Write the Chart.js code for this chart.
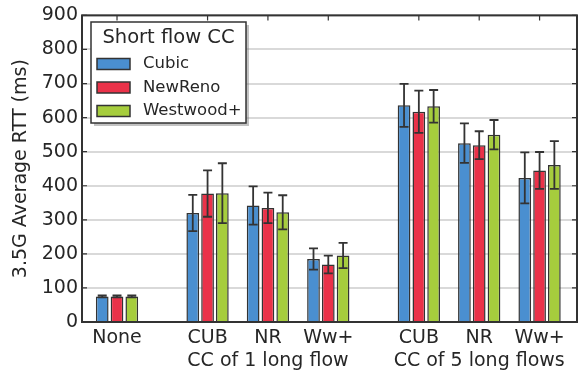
<!DOCTYPE html>
<html>
<head>
<meta charset="utf-8">
<script src="https://cdn.jsdelivr.net/npm/chart.js@4.4.1/dist/chart.umd.min.js"></script>
<style>
  html, body { margin: 0; padding: 0; background: #fff; }
  #wrap { width: 578px; height: 371px; }
</style>
</head>
<body>
<div id="wrap"><canvas id="rtt"></canvas></div>
<script>
// categories, split into groups (long-flow CC)
const groups = [["None"], ["CUB", "NR", "Ww+"], ["CUB", "NR", "Ww+"]];
const groupNames = ["", "CC of 1 long flow", "CC of 5 long flows"];
const seriesNames = ["Cubic", "NewReno", "Westwood+"];

// average RTT (ms) and error (+/-)
const cubic = [75, 320, 342, 185, 636, 525, 423];
const cubicErr = [3, 53, 56, 31, 63, 58, 75];
const newreno = [75, 377, 335, 169, 617, 519, 445];
const newrenoErr = [3, 68, 45, 26, 62, 41, 54];
const westwood = [75, 378, 322, 195, 633, 550, 461];
const westwoodErr = [3, 88, 50, 37, 48, 43, 70];

const yTicks = [0, 100, 200, 300, 400, 500, 600, 700, 800, 900];

const colors = ["#4a8fd0", "#ea3249", "#a6cd3d"];
const edge = "#333333";
const FONT = "'DejaVu Sans', sans-serif";

// slot positions: one unit per category, half unit gap between groups
const positions = [];
const tickLabels = [];
let p = 0;
groups.forEach((g, gi) => {
  g.forEach((name, i) => {
    positions.push(p);
    if (groupNames[gi] && i === Math.floor(g.length / 2)) tickLabels.push([name, groupNames[gi]]);
    else tickLabels.push(name);
    p += 1;
  });
  p += 0.5;
});

const values = [cubic, newreno, westwood];
const errors = [cubicErr, newrenoErr, westwoodErr];

const datasets = seriesNames.map((name, s) => ({
  label: name,
  data: positions.map((x, i) => ({ x: x, y: values[s][i] })),
  errs: errors[s],
  backgroundColor: colors[s],
  borderColor: edge,
  borderWidth: 1.5,
  categoryPercentage: 0.735,
  barPercentage: 0.86
}));

const errorBars = {
  id: "errorBars",
  afterDatasetsDraw(chart) {
    const ctx = chart.ctx;
    const y = chart.scales.y;
    ctx.save();
    ctx.strokeStyle = edge;
    ctx.lineWidth = 1.8;
    chart.data.datasets.forEach((ds, di) => {
      chart.getDatasetMeta(di).data.forEach((bar, i) => {
        const v = ds.data[i].y, e = ds.errs[i];
        const top = y.getPixelForValue(v + e);
        const bot = y.getPixelForValue(v - e);
        ctx.beginPath();
        ctx.moveTo(bar.x, top); ctx.lineTo(bar.x, bot);
        ctx.moveTo(bar.x - 4.5, top); ctx.lineTo(bar.x + 4.5, top);
        ctx.moveTo(bar.x - 4.5, bot); ctx.lineTo(bar.x + 4.5, bot);
        ctx.stroke();
      });
    });
    ctx.restore();
  }
};

const frame = {
  id: "frame",
  afterDatasetsDraw(chart) {
    const ctx = chart.ctx;
    const a = chart.chartArea;
    const x = chart.scales.x, y = chart.scales.y;
    ctx.save();
    ctx.strokeStyle = edge;
    ctx.lineWidth = 1.2;
    ctx.beginPath();
    positions.forEach(v => {
      const px = x.getPixelForValue(v);
      ctx.moveTo(px, a.top); ctx.lineTo(px, a.top + 5);
    });
    yTicks.forEach(v => {
      const py = y.getPixelForValue(v);
      ctx.moveTo(a.right, py); ctx.lineTo(a.right - 5, py);
      ctx.moveTo(a.left, py); ctx.lineTo(a.left + 5, py);
    });
    ctx.stroke();
    ctx.lineWidth = 2;
    ctx.strokeRect(a.left, a.top, a.right - a.left, a.bottom - a.top);
    ctx.restore();
  }
};

const boxLegend = {
  id: "boxLegend",
  afterDraw(chart) {
    const ctx = chart.ctx;
    const bx = 91, by = 22, bw = 155, bh = 101;
    ctx.save();
    ctx.fillStyle = "rgba(120,120,120,0.45)";
    ctx.fillRect(bx + 3, by + 3, bw, bh);
    ctx.fillStyle = "#fff";
    ctx.fillRect(bx, by, bw, bh);
    ctx.strokeStyle = edge;
    ctx.lineWidth = 1.5;
    ctx.strokeRect(bx, by, bw, bh);
    ctx.fillStyle = "#262626";
    ctx.font = "19.5px " + FONT;
    ctx.textAlign = "center";
    ctx.textBaseline = "alphabetic";
    ctx.fillText("Short flow CC", bx + bw / 2, by + 21);
    ctx.font = "16.5px " + FONT;
    ctx.textAlign = "left";
    ctx.textBaseline = "middle";
    chart.data.datasets.forEach((ds, i) => {
      const cy = by + 42 + i * 23.5;
      ctx.fillStyle = ds.backgroundColor;
      ctx.fillRect(bx + 6, cy - 5.5, 33, 11);
      ctx.strokeStyle = edge;
      ctx.lineWidth = 1.5;
      ctx.strokeRect(bx + 6, cy - 5.5, 33, 11);
      ctx.fillStyle = "#262626";
      ctx.fillText(ds.label, bx + 52, cy);
    });
    ctx.restore();
  }
};

new Chart(document.getElementById("rtt").getContext("2d"), {
  type: "bar",
  data: { datasets: datasets },
  options: {
    responsive: true,
    maintainAspectRatio: false,
    animation: false,
    layout: { padding: { top: 14, right: 1, left: 0, bottom: 0 } },
    plugins: { legend: { display: false }, tooltip: { enabled: false } },
    scales: {
      x: {
        type: "linear",
        offset: false,
        min: positions[0] - 0.58,
        max: positions[positions.length - 1] + 0.62,
        afterBuildTicks: s => { s.ticks = positions.map(v => ({ value: v })); },
        afterFit: s => { s.height = 49; },
        grid: { display: false, offset: false },
        border: { display: false },
        ticks: {
          autoSkip: false,
          maxRotation: 0,
          padding: -3,
          color: "#262626",
          font: { family: FONT, size: 19 },
          callback: (v, i) => tickLabels[i]
        }
      },
      y: {
        min: 0,
        max: 900,
        afterBuildTicks: s => { s.ticks = yTicks.map(v => ({ value: v })); },
        afterFit: s => { s.width = 82; },
        grid: { color: "#d9d9d9", lineWidth: 2, drawTicks: false },
        border: { display: false },
        ticks: {
          padding: 4,
          color: "#262626",
          font: { family: FONT, size: 19 }
        },
        title: {
          display: true,
          text: "3.5G Average RTT (ms)",
          color: "#262626",
          font: { family: FONT, size: 19 },
          padding: { top: 10, bottom: 0 }
        }
      }
    }
  },
  plugins: [errorBars, frame, boxLegend]
});
</script>
</body>
</html>
